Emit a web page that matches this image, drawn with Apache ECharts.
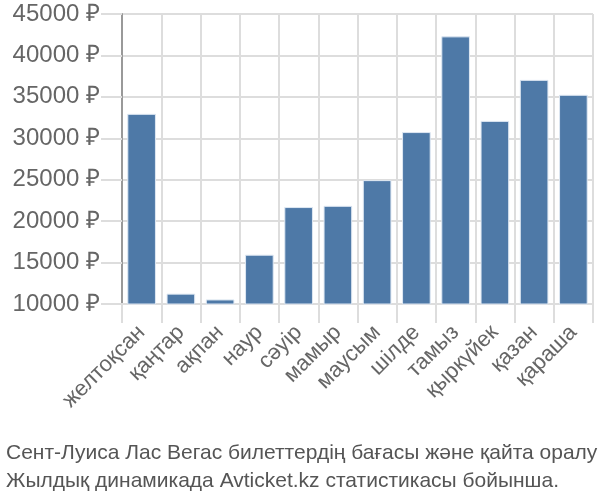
<!DOCTYPE html>
<html><head><meta charset="utf-8">
<script src="https://cdn.jsdelivr.net/npm/echarts@6/dist/echarts.min.js"></script>
<style>html,body{margin:0;padding:0;background:#fff}#c{width:600px;height:500px}</style>
</head><body><div id="c"></div>
<script>
const categories = ['желтоқсан','қаңтар','ақпан','наур','сәуір','мамыр','маусым','шілде','тамыз','қыркүйек','қазан','қараша'];
const prices = [32950, 11250, 10550, 15950, 21700, 21850, 24950, 30750, 42300, 32100, 37050, 35250];
const yTicks = {min: 10000, max: 45000, step: 5000, suffix: ' ₽'};
const captionLines = ['Сент-Луиса Лас Вегас билеттердің бағасы және қайта оралу', 'Жылдық динамикада Avticket.kz статистикасы бойынша.'];

const chart = echarts.init(document.getElementById('c'), null, {renderer: 'canvas'});
const font = 'Liberation Sans, Arial, sans-serif';
chart.setOption({
  animation: false,
  title: {
    text: captionLines.join('\n'),
    left: 1, top: 434,
    textStyle: {fontFamily: font, fontSize: 21, fontWeight: 'normal', color: '#555', lineHeight: 28}
  },
  grid: {left: 122, right: 7, top: 14, bottom: 196, containLabel: false},
  xAxis: {
    type: 'category', data: categories,
    axisLine: {show: true, lineStyle: {color: '#ddd', width: 2}},
    axisTick: {show: true, length: 19, lineStyle: {color: '#ddd', width: 2}},
    splitLine: {show: true, lineStyle: {color: '#ddd', width: 2}},
    axisLabel: {rotate: 45, fontFamily: font, fontSize: 22, color: '#666', margin: 25, interval: 0}
  },
  yAxis: {
    type: 'value', min: yTicks.min, max: yTicks.max, interval: yTicks.step,
    axisLine: {show: true, lineStyle: {color: '#999', width: 2}},
    axisTick: {show: true, length: 21, lineStyle: {color: '#ddd', width: 2}},
    splitLine: {show: true, lineStyle: {color: '#ddd', width: 2}},
    axisLabel: {fontFamily: font, fontSize: 24, color: '#666', margin: 22,
      formatter: v => v + yTicks.suffix}
  },
  series: [{
    type: 'bar', data: prices, barCategoryGap: '27%',
    itemStyle: {color: '#4e79a7', borderColor: '#dfe8f3', borderWidth: 1}
  }]
});
</script></body></html>
